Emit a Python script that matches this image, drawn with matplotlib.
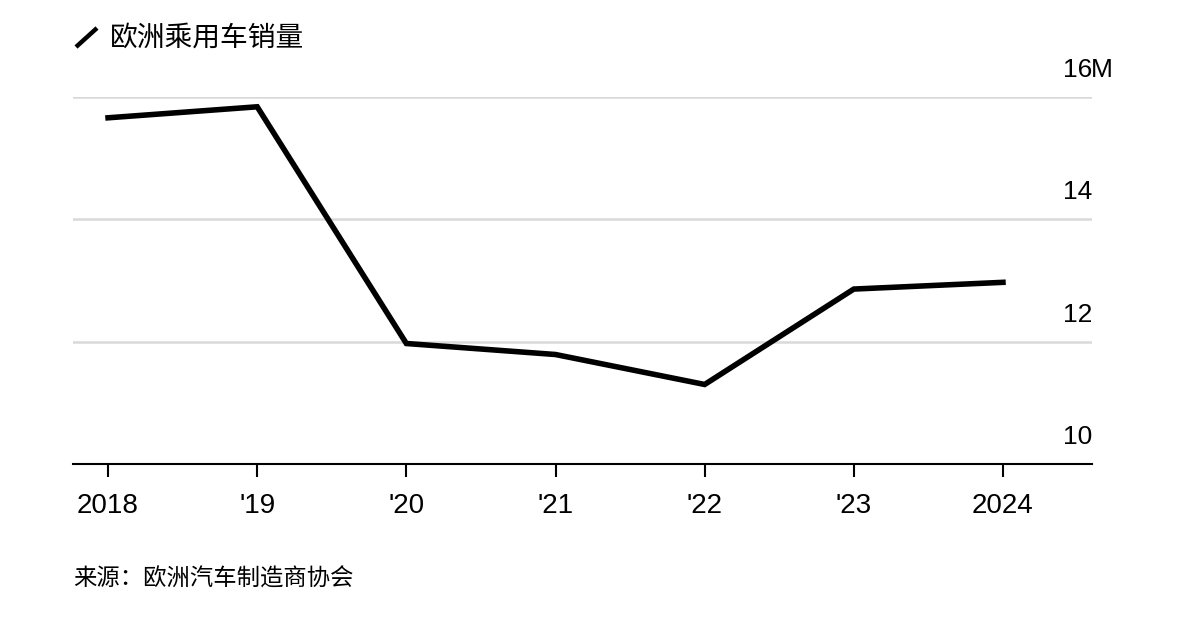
#!/usr/bin/env python3
import matplotlib
matplotlib.use("Agg")
import matplotlib.pyplot as plt
from matplotlib.lines import Line2D

plt.rcParams['font.family'] = ['Liberation Sans', 'Noto Sans CJK SC', 'DejaVu Sans']

years = [2018, 2019, 2020, 2021, 2022, 2023, 2024]
sales = [15.66, 15.84, 11.97, 11.79, 11.30, 12.86, 12.97]  # millions
xlabels = ['2018', "'19", "'20", "'21", "'22", "'23", '2024']
yticks = [10, 12, 14, 16]
title = '欧洲乘用车销量'
source = '来源：欧洲汽车制造商协会'

fig = plt.figure(figsize=(12, 6.24), dpi=100)
ax = fig.add_axes([73 / 1200, 1 - 464 / 624, (1092 - 73) / 1200, (464 - 97) / 624])

for v in yticks[1:]:
    ax.axhline(v, color='#d9d9d9', lw=1.8, zorder=1)

ax.plot(years, sales, color='black', lw=4, solid_joinstyle='miter', zorder=3)

ax.set_xlim(2017.765, 2024.597)
ax.set_ylim(10, 16)

for s in ['top', 'right', 'left']:
    ax.spines[s].set_visible(False)
ax.spines['bottom'].set_linewidth(1.5)
ax.spines['bottom'].set_color('black')

ax.set_xticks(years)
ax.set_xticklabels(xlabels, fontsize=20)
ax.tick_params(axis='x', length=9, width=1.5, pad=12, color='black')
ax.set_yticks([])

for v in yticks:
    ax.annotate(str(v), xy=(1, v), xycoords=('axes fraction', 'data'),
                xytext=(0, 15), textcoords='offset pixels',
                ha='right', va='bottom', fontsize=19)
ax.annotate('M', xy=(1, 16), xycoords=('axes fraction', 'data'),
            xytext=(-1, 15), textcoords='offset pixels',
            ha='left', va='bottom', fontsize=19)

# title with slash icon
fig.add_artist(Line2D([76 / 1200, 97 / 1200], [1 - 47 / 624, 1 - 28 / 624],
                      color='black', lw=3.2, solid_capstyle='butt'))
fig.text(110 / 1200, 1 - 38 / 624, title, fontsize=20, va='center', ha='left',
         family=['Noto Sans CJK SC'])
fig.text(73 / 1200, 1 - 579 / 624, source, fontsize=16.8, va='center', ha='left',
         family=['Noto Sans CJK SC'])

fig.savefig('out.png', dpi=100, facecolor='white')
